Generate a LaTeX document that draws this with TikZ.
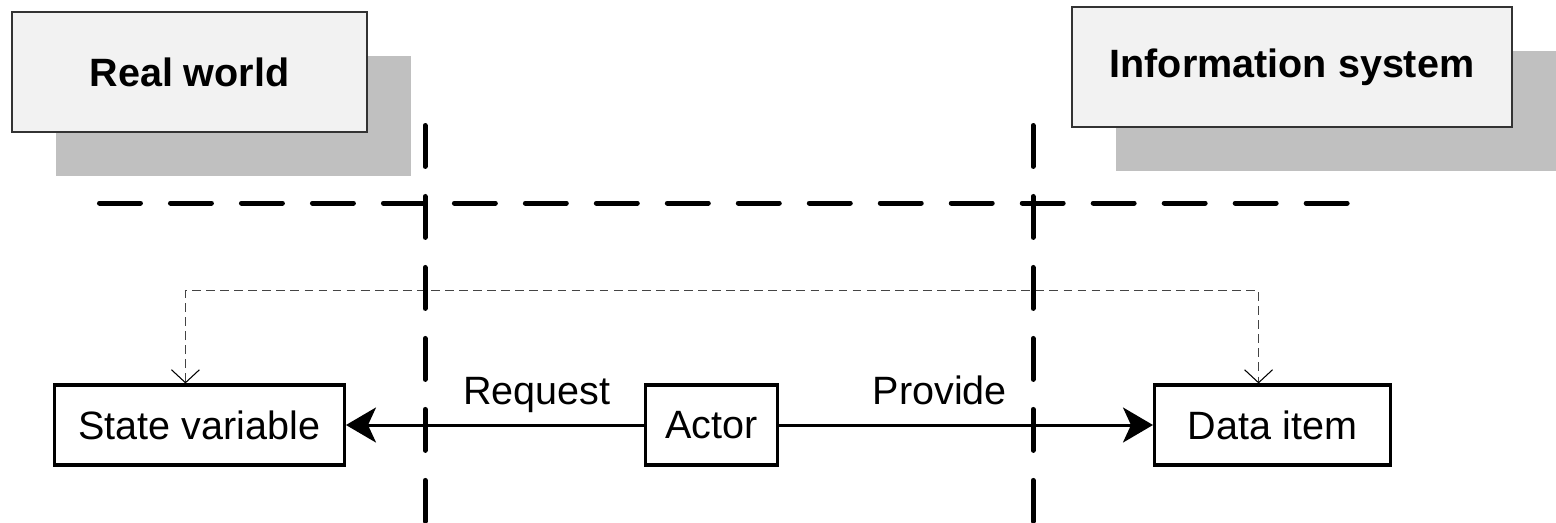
\documentclass[tikz,border=0pt]{standalone}
\usepackage{fontspec}
\setmainfont{Liberation Sans}
\usetikzlibrary{positioning, shadows, arrows.meta}

\definecolor{headfill}{HTML}{F2F2F2}
\definecolor{headshadow}{HTML}{C0C0C0}
\definecolor{linkgray}{HTML}{444444}

\begin{document}
\begin{tikzpicture}[
        x=0.02cm, y=-0.02cm,
        every node/.style={font=\fontsize{22.5}{27}\selectfont},
        header/.style={draw=black!80, line width=0.85pt, fill=headfill, minimum width=7.1cm, minimum height=2.4cm,
            font=\fontsize{22.5}{27}\selectfont\bfseries,
            drop shadow={shadow xshift=0.88cm, shadow yshift=-0.88cm, fill=headshadow, opacity=1}},
        box/.style={draw, rectangle, line width=1.8pt, minimum height=1.6cm, align=center},
        divider/.style={line width=2.85pt, line cap=round, dash pattern=on 23.3pt off 17.1pt},
        flow/.style={line width=1.7pt, -{Stealth[length=0.6cm, width=0.7cm, inset=0.16cm]}},
        link/.style={draw=linkgray, line width=0.6pt, dash pattern=on 5pt off 3pt,
            {Straight Barb[length=0.26cm, width=0.56cm, black]}-{Straight Barb[length=0.26cm, width=0.56cm, black]}},
        lbl/.style={anchor=base, yshift=0.41cm}
    ]
    \useasboundingbox (0,0) rectangle (1556,522);

    % the two sides
    \node[header] (world) at (189.5,72) {Real world};
    \node[header, minimum width=8.8cm] (system) at (1292,67) {Information system};

    \node[box, minimum width=2.64cm] (actor) at (711.5,425) {Actor};
    \node[box, minimum width=5.8cm, left=5.96cm of actor] (state) {State variable};
    \node[box, minimum width=4.72cm, right=7.48cm of actor] (item) {Data item};

    \draw[link] ([xshift=-0.28cm]state.north) -- ++(0,-93) -| ([xshift=-0.28cm]item.north);

    \draw[flow] (actor.west) -- node[lbl, pos=0.36] {Request} (state.east);
    \draw[flow] (actor.east) -- node[lbl, pos=0.43] {Provide} (item.west);

    % boundaries
    \draw[divider] (99.5,203) -- (1349.5,203);
    \draw[divider] (425,125.5) -- (425,522);
    \draw[divider] (1033,125.5) -- (1033,522);

\end{tikzpicture}
\end{document}
